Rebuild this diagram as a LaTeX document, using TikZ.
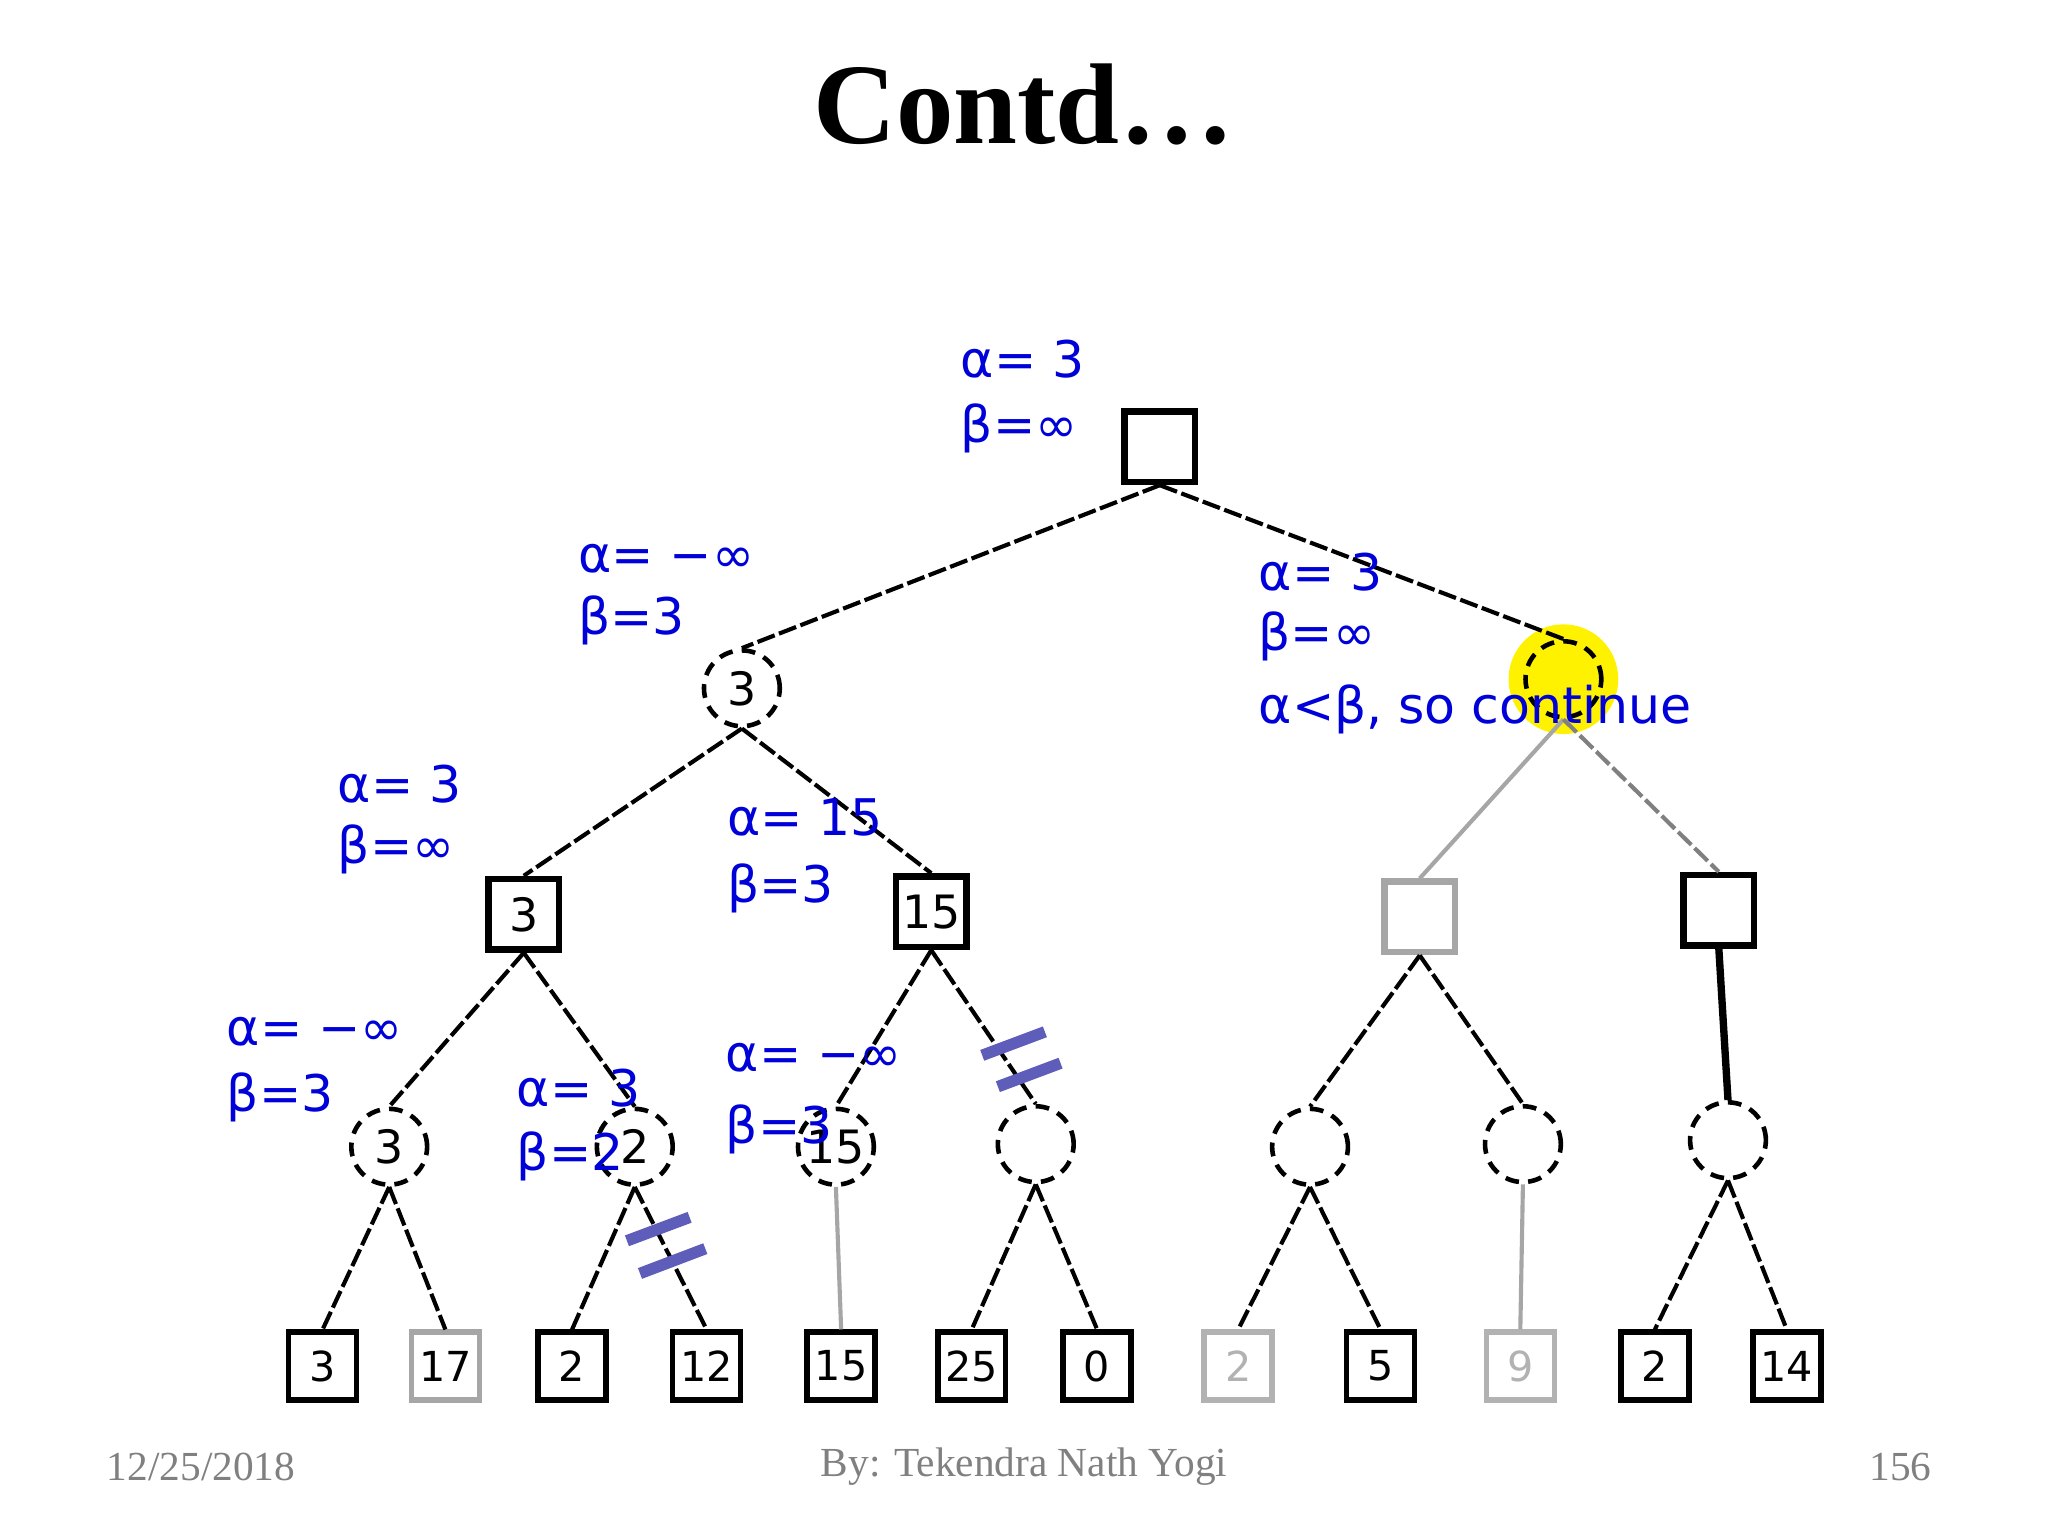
\documentclass[tikz,border=0pt]{standalone}
\usepackage{fontspec}
\setmainfont{Liberation Serif}
\newfontfamily\lbl{DejaVu Sans}
\begin{document}
\begin{tikzpicture}[x=0.01cm,y=-0.01cm,
 sq/.style={draw,line width=1.4pt,minimum size=0.54cm,inner sep=0pt,font=\lbl\fontsize{10}{12}\selectfont},
 lf/.style={draw,line width=1.2pt,minimum size=0.52cm,inner sep=0pt,font=\lbl\fontsize{9}{10}\selectfont},
 ci/.style={circle,draw,densely dashed,line width=1pt,minimum size=0.58cm,inner sep=0pt,font=\lbl\fontsize{10}{12}\selectfont},
 ed/.style={line width=0.9pt,dash pattern=on 4pt off 1pt},
 ge/.style={line width=0.9pt,gray!70},
 bl/.style={anchor=west,text=blue!85!black,font=\lbl\fontsize{11}{13}\selectfont,inner sep=0pt},
 cut/.style={line width=2.5pt,color=blue!40!gray!90}]
\useasboundingbox (0,0) rectangle (1568,1176);
\node[font=\bfseries\fontsize{25}{30}\selectfont] (title) at (784,80) {Contd…};
\fill[yellow] (1197,520) circle (42);
% nodes
\node[sq] (r) at (888,342) {};
\node[ci] (a) at (568,527) {3};
\node[ci] (b) at (1197,520) {};
\node[sq] (a1) at (401,700) {3};
\node[sq] (a2) at (713,698) {15};
\node[sq,draw=gray!70] (b1) at (1087,702) {};
\node[sq] (b2) at (1316,697) {};
\node[ci] (c1) at (298,878) {3};
\node[ci] (c2) at (486,878) {2};
\node[ci] (c3) at (640,878) {15};
\node[ci] (c4) at (793,876) {};
\node[ci] (c5) at (1003,878) {};
\node[ci] (c6) at (1166,876) {};
\node[ci] (c7) at (1323,873) {};
\node[lf] (l1) at (247,1046) {3};
\node[lf,draw=gray!70] (l2) at (341,1046) {17};
\node[lf] (l3) at (438,1046) {2};
\node[lf] (l4) at (541,1046) {12};
\node[lf] (l5) at (644,1046) {15};
\node[lf] (l6) at (744,1046) {25};
\node[lf] (l7) at (840,1046) {0};
\node[lf,draw=gray!60,text=gray!60] (l8) at (948,1046) {2};
\node[lf] (l9) at (1057,1046) {5};
\node[lf,draw=gray!60,text=gray!60] (l10) at (1164,1046) {9};
\node[lf] (l11) at (1267,1046) {2};
\node[lf] (l12) at (1368,1046) {14};
% edges
\draw[ed] (r.south) -- (a.north);
\draw[ed] (r.south) -- (b.north);
\draw[ed] (a.south) -- (a1.north);
\draw[ed] (a.south) -- (a2.north);
\draw[ge] (b.south) -- (b1.north);
\draw[ed,gray] (b.south) -- (b2.north);
\draw[ed] (a1.south) -- (c1.north);
\draw[ed] (a1.south) -- (c2.north);
\draw[ed] (a2.south) -- (c3.north);
\draw[ed] (a2.south) -- (c4.north);
\draw[ed] (b1.south) -- (c5.north);
\draw[ed] (b1.south) -- (c6.north);
\draw[line width=1.6pt] (b2.south) -- (c7.north);
\draw[ed] (c1.south) -- (l1.north);
\draw[ed] (c1.south) -- (l2.north);
\draw[ed] (c2.south) -- (l3.north);
\draw[ed] (c2.south) -- (l4.north);
\draw[ge] (c3.south) -- (l5.north);
\draw[ed] (c4.south) -- (l6.north);
\draw[ed] (c4.south) -- (l7.north);
\draw[ed] (c5.south) -- (l8.north);
\draw[ed] (c5.south) -- (l9.north);
\draw[ge] (c6.south) -- (l10.north);
\draw[ed] (c7.south) -- (l11.north);
\draw[ed] (c7.south) -- (l12.north);
% cut marks
\draw[cut] (480,950) -- (528,932);
\draw[cut] (490,975) -- (540,956);
\draw[cut] (752,808) -- (800,790);
\draw[cut] (764,832) -- (812,814);
% labels
\node[bl] (t1) at (735,275) {α= 3};
\node[bl] (t2) at (735,328) {β=∞};
\node[bl] (t3) at (442,428) {α= −∞};
\node[bl] (t4) at (442,475) {β=3};
\node[bl] (t5) at (963,438) {α= 3};
\node[bl] (t6) at (963,487) {β=∞};
\node[bl] (t7) at (963,543) {α<β, so continue};
\node[bl] (t8) at (258,600) {α= 3};
\node[bl] (t9) at (258,650) {β=∞};
\node[bl] (t10) at (556,626) {α= 15};
\node[bl] (t11) at (556,680) {β=3};
\node[bl] (t12) at (173,790) {α= −∞};
\node[bl] (t13) at (173,840) {β=3};
\node[bl] (t14) at (395,833) {α= 3};
\node[bl] (t15) at (395,885) {β=2};
\node[bl] (t16) at (555,810) {α= −∞};
\node[bl] (t17) at (555,865) {β=3};
% footer
\node[text=gray,font=\fontsize{9}{11}\selectfont] (f1) at (154,1123) {12/25/2018};
\node[text=gray,font=\fontsize{9}{11}\selectfont] (f2) at (784,1123) {By: Tekendra Nath Yogi};
\node[text=gray,font=\fontsize{9}{11}\selectfont] (f3) at (1455,1123) {156};
\end{tikzpicture}
\end{document}
